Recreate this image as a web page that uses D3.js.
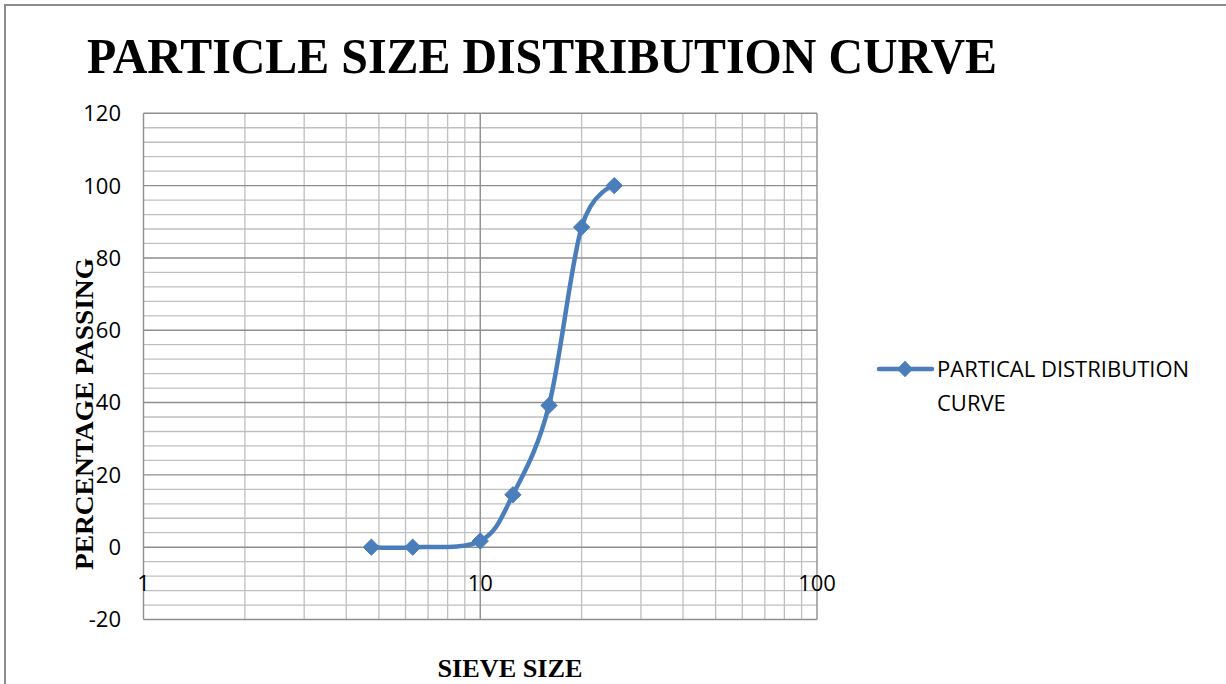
<!DOCTYPE html>
<html>
<head>
<meta charset="utf-8">
<script src="https://cdn.jsdelivr.net/npm/d3@7"></script>
<style>
  html, body { margin: 0; padding: 0; background: #fff; }
  svg { display: block; }
</style>
</head>
<body>
<svg id="chart" width="1226" height="684"></svg>
<script>
// ---- data ----
const sieveSizes = [4.75, 6.3, 10, 12.5, 16, 20, 25];
const percentPassing = [0, 0, 1.7, 14.5, 39.2, 88.5, 100];
const yTicks = [-20, 0, 20, 40, 60, 80, 100, 120];
const xTicks = [1, 10, 100];
const seriesName = "PARTICAL DISTRIBUTION CURVE";
const titleText = "PARTICLE SIZE DISTRIBUTION CURVE";
const xTitle = "SIEVE SIZE";
const yTitle = "PERCENTAGE PASSING";

const svg = d3.select("#chart");
const color = "#4a7ebb";
const sansFont = "'Open Sans', sans-serif";
const serifFont = "'Liberation Serif', 'Times New Roman', serif";

// outer frame
svg.append("rect").attr("x", 5).attr("y", 5).attr("width", 1300).attr("height", 720)
  .attr("fill", "none").attr("stroke", "#8c8c8c").attr("stroke-width", 2);

const x = d3.scaleLog().domain([1, 100]).range([143.5, 817]);
const y = d3.scaleLinear().domain([-20, 120]).range([619.5, 113.3]);

// grid: horizontal minor (every 4), major (every 20)
const g = svg.append("g");
const minorY = d3.range(-20, 121, 4).filter(v => v % 20 !== 0);
g.selectAll(".hminor").data(minorY).enter().append("line")
  .attr("x1", x(1)).attr("x2", x(100))
  .attr("y1", d => y(d)).attr("y2", d => y(d))
  .attr("stroke", "#bfbfbf").attr("stroke-width", 1.3);
// vertical minor
const minorX = [];
[1, 10].forEach(dec => { for (let k = 2; k <= 9; k++) minorX.push(dec * k); });
g.selectAll(".vminor").data(minorX).enter().append("line")
  .attr("x1", d => x(d)).attr("x2", d => x(d))
  .attr("y1", y(-20)).attr("y2", y(120))
  .attr("stroke", "#bfbfbf").attr("stroke-width", 1.3);
// major horizontal
g.selectAll(".hmajor").data(yTicks).enter().append("line")
  .attr("x1", x(1)).attr("x2", x(100))
  .attr("y1", d => y(d)).attr("y2", d => y(d))
  .attr("stroke", "#8e8e8e").attr("stroke-width", 1.4);
// major vertical
g.selectAll(".vmajor").data(xTicks).enter().append("line")
  .attr("x1", d => x(d)).attr("x2", d => x(d))
  .attr("y1", y(-20)).attr("y2", y(120))
  .attr("stroke", "#8e8e8e").attr("stroke-width", 1.4);

// y axis tick labels
svg.append("g").selectAll("text").data(yTicks).enter().append("text")
  .attr("x", 121).attr("y", d => y(d))
  .attr("dy", "0.36em")
  .attr("text-anchor", "end")
  .attr("font-family", sansFont).attr("font-size", 22).attr("fill", "#000")
  .text(d => d);

// x axis tick labels (axis crosses at y=0)
svg.append("g").selectAll("text").data(xTicks).enter().append("text")
  .attr("x", d => x(d)).attr("y", y(0) + 36)
  .attr("dy", "0.36em")
  .attr("text-anchor", "middle")
  .attr("font-family", sansFont).attr("font-size", 22).attr("fill", "#000")
  .text(d => d);

// series line
const pts = sieveSizes.map((s, i) => [s, percentPassing[i]]);
const line = d3.line().x(d => x(d[0])).y(d => y(d[1])).curve(d3.curveCatmullRom.alpha(0));
svg.append("path").datum(pts).attr("d", line)
  .attr("fill", "none").attr("stroke", color).attr("stroke-width", 4.5)
  .attr("stroke-linejoin", "round").attr("stroke-linecap", "round");

const diamond = d3.symbol().type(d3.symbolDiamond2).size(170);
svg.append("g").selectAll("path").data(pts).enter().append("path")
  .attr("transform", d => `translate(${x(d[0])},${y(d[1])})`)
  .attr("d", diamond).attr("fill", color).attr("stroke", color).attr("stroke-width", 1);

// title
svg.append("text").attr("x", 87).attr("y", 73)
  .attr("font-family", serifFont).attr("font-weight", "bold").attr("font-size", 50)
  .attr("textLength", 910).attr("lengthAdjust", "spacingAndGlyphs")
  .text(titleText);

// axis titles
svg.append("text").attr("x", 510).attr("y", 677).attr("text-anchor", "middle")
  .attr("font-family", serifFont).attr("font-weight", "bold").attr("font-size", 25)
  .attr("textLength", 145).attr("lengthAdjust", "spacingAndGlyphs")
  .text(xTitle);
svg.append("text").attr("transform", "translate(93,414) rotate(-90)").attr("text-anchor", "middle")
  .attr("font-family", serifFont).attr("font-weight", "bold").attr("font-size", 26)
  .attr("textLength", 312).attr("lengthAdjust", "spacingAndGlyphs")
  .text(yTitle);

// legend
const lg = svg.append("g");
lg.append("line").attr("x1", 879).attr("x2", 932).attr("y1", 369).attr("y2", 369)
  .attr("stroke", color).attr("stroke-width", 4.5).attr("stroke-linecap", "round");
lg.append("path").attr("transform", "translate(905,369)").attr("d", diamond).attr("fill", color);
const words = seriesName.split(" ");
lg.append("text").attr("x", 937).attr("y", 377)
  .attr("font-family", sansFont).attr("font-size", 22).attr("fill", "#000")
  .text(words.slice(0, 2).join(" "));
lg.append("text").attr("x", 937).attr("y", 411)
  .attr("font-family", sansFont).attr("font-size", 22).attr("fill", "#000")
  .text(words.slice(2).join(" "));
</script>
</body>
</html>
